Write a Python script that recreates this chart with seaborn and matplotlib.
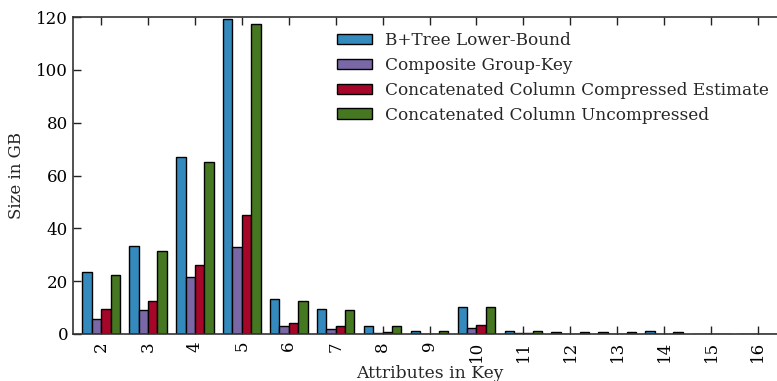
import matplotlib
matplotlib.use("Agg")
import matplotlib.pyplot as plt
import seaborn as sns
import pandas as pd

attributes = ["2", "3", "4", "5", "6", "7", "8", "9", "10", "11", "12", "13", "14", "15", "16"]
series_names = [
    "B+Tree Lower-Bound",
    "Composite Group-Key",
    "Concatenated Column Compressed Estimate",
    "Concatenated Column Uncompressed",
]
btree = [23.6, 33.3, 67.0, 119.1, 13.1, 9.5, 3.2, 1.1, 10.3, 1.3, 0.6, 0.75, 1.0, 0.15, 0.1]
composite = [5.6, 9.1, 21.7, 32.8, 2.9, 1.8, 0.4, 0.1, 2.1, 0.2, 0.05, 0.05, 0.05, 0.05, 0.05]
compressed = [9.3, 12.6, 26.1, 45.0, 4.3, 2.9, 0.9, 0.1, 3.4, 0.2, 0.05, 0.05, 0.05, 0.05, 0.05]
uncompressed = [22.2, 31.5, 65.0, 117.3, 12.5, 9.2, 2.9, 1.0, 10.1, 1.2, 0.6, 0.65, 0.9, 0.15, 0.1]
colors = ["#348ABD", "#7A68A6", "#A60628", "#467821"]

rows = []
for name, vals in zip(series_names, [btree, composite, compressed, uncompressed]):
    for a, v in zip(attributes, vals):
        rows.append({"Attributes in Key": a, "Size in GB": v, "Series": name})
df = pd.DataFrame(rows)

sns.set_style("ticks")
plt.rcParams["font.family"] = ["DejaVu Serif"]
plt.rcParams["font.size"] = 12

fig = plt.figure(figsize=(7.77, 3.81), dpi=100)
ax = fig.add_axes([73 / 777, 1 - 334 / 381, 713 / 777, (334 - 17) / 381])

sns.barplot(data=df, x="Attributes in Key", y="Size in GB", hue="Series",
            order=attributes, hue_order=series_names, palette=colors,
            width=0.8, edgecolor="black", linewidth=1.0, saturation=1,
            ax=ax)

ax.set_xlim(-0.6, 14.6)
ax.set_ylim(0, 120)
ax.set_yticks([0, 20, 40, 60, 80, 100, 120])
ax.tick_params(direction="in", length=6, width=1, top=True, right=True,
               colors="#222222", labelsize=12, labelcolor="black")
ax.tick_params(axis="x", labelrotation=90, pad=5)
for s in ax.spines.values():
    s.set_visible(True)
    s.set_color("#333333")
    s.set_linewidth(1.2)
ax.set_xlabel("Attributes in Key", fontsize=12.3, labelpad=2)
ax.set_ylabel("Size in GB", fontsize=12, labelpad=8)

handles, labels = ax.get_legend_handles_labels()
ax.legend(handles, labels, loc="upper left", frameon=False,
          bbox_to_anchor=(337 / 777, 1 - 32 / 381), bbox_transform=fig.transFigure,
          borderaxespad=0, borderpad=0, fontsize=12.15, handlelength=2.1,
          handleheight=0.6, handletextpad=0.75, labelspacing=0.47)

fig.savefig("out.png", dpi=100)
